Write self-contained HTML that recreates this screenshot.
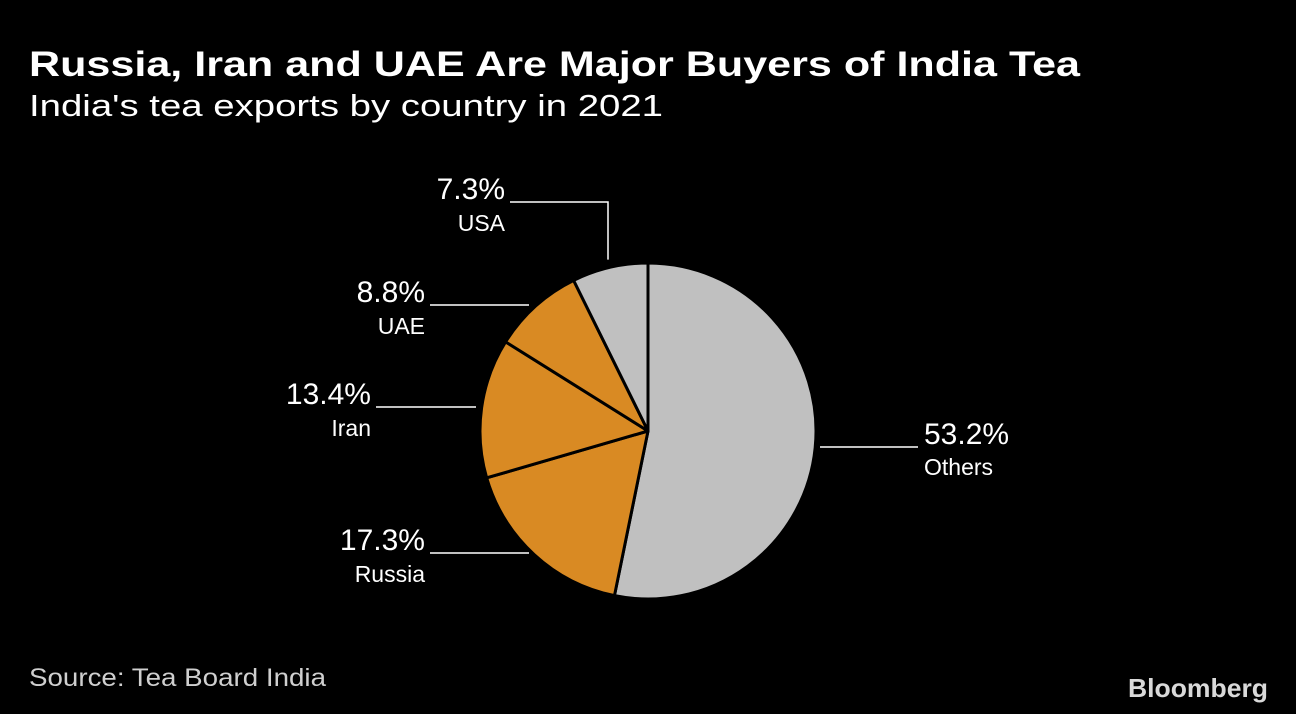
<!DOCTYPE html>
<html><head><meta charset="utf-8">
<style>
html,body{margin:0;padding:0;background:#000;width:1296px;height:714px;overflow:hidden}
svg{display:block}
text{font-family:"Liberation Sans",sans-serif;fill:#fff}
</style></head>
<body>
<svg id="chart" width="1296" height="714" viewBox="0 0 1296 714">
<text x="29" y="76" font-size="35" font-weight="bold" textLength="1051" lengthAdjust="spacingAndGlyphs">Russia, Iran and UAE Are Major Buyers of India Tea</text>
<text x="29" y="116" font-size="31" textLength="634" lengthAdjust="spacingAndGlyphs">India's tea exports by country in 2021</text>
<g id="slices"></g>
<g id="labels"></g>
<text x="29" y="686" font-size="25" style="fill:#cfcfcf" textLength="297" lengthAdjust="spacingAndGlyphs">Source: Tea Board India</text>
<text x="1268" y="697" font-size="26" font-weight="bold" text-anchor="end" style="fill:#d9d9d9" textLength="140" lengthAdjust="spacingAndGlyphs">Bloomberg</text>
</svg>
<script>
const categories = ["Others","Russia","Iran","UAE","USA"];
const values = [53.2,17.3,13.4,8.8,7.3];
const valueLabels = ["53.2%","17.3%","13.4%","8.8%","7.3%"];
const colors = ["#c0c0c0","#d98a23","#d98a23","#d98a23","#c0c0c0"];
const NS="http://www.w3.org/2000/svg";
const cx=648, cy=431, r=168;
// label layout (x of line start, line end, line y, side)
const layout=[[820,918,447,'r'],[529,430,553,'l'],[476,376,407,'l'],[529,430,305,'l'],[608,510,202,'u']];
const total=values.reduce((a,b)=>a+b,0);
function pt(frac,rad){const a=frac*2*Math.PI;return [cx+rad*Math.sin(a), cy-rad*Math.cos(a)];}
const gs=document.getElementById('slices'), gl=document.getElementById('labels');
function mk(tag,attrs,parent){const e=document.createElementNS(NS,tag);for(const k in attrs)e.setAttribute(k,attrs[k]);parent.appendChild(e);return e;}
let cum=0;
values.forEach((v,i)=>{
  const f0=cum/total, f1=(cum+v)/total; cum+=v;
  const [x0,y0]=pt(f0,r),[x1,y1]=pt(f1,r);
  const large=(f1-f0)>0.5?1:0;
  const p=mk('path',{d:`M${cx},${cy} L${x0},${y0} A${r},${r} 0 ${large} 1 ${x1},${y1} Z`,fill:colors[i],stroke:'#000','stroke-width':3,'stroke-linejoin':'round'},gs);
  
  
  const [a,b,ly,side]=layout[i];
  let pts=`${a},${ly} ${b},${ly}`;
  if(side==='u'){const [,ey]=pt((f0+f1)/2,r+8);pts=`${a},${ey} ${a},${ly} ${b},${ly}`;}
  const lineEl=mk('polyline',{points:pts,fill:'none',stroke:'#fff','stroke-width':1.5},gl);
  let t1,t2;
  if(side==='r'){
    t1=mk('text',{x:b+6,y:ly-3,'font-size':30},gl);
    t2=mk('text',{x:b+6,y:ly+28,'font-size':23},gl);
  } else {
    t1=mk('text',{x:b-5,y:ly-3,'font-size':30,'text-anchor':'end'},gl);
    t2=mk('text',{x:b-5,y:ly+29,'font-size':23,'text-anchor':'end'},gl);
  }
  
  
  t1.textContent=valueLabels[i];
  
  
  t2.textContent=categories[i];
  
  
});
</script>
</body></html>
